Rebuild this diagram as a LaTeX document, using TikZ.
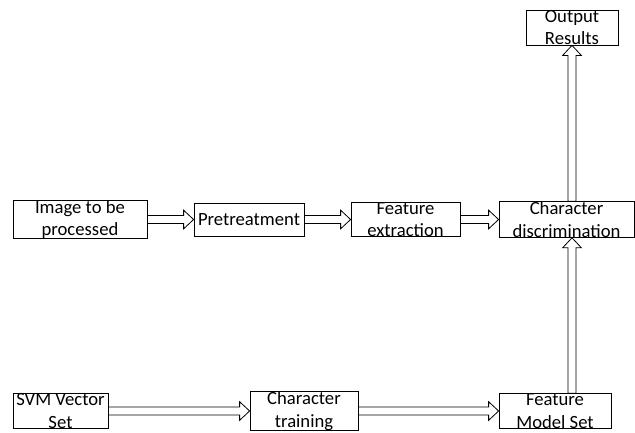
\documentclass[tikz,border=0pt]{standalone}
\usepackage{fontspec}
\setmainfont{Carlito}
\usetikzlibrary{calc}

\tikzset{
  block/.style={draw, line width=0.6pt, inner sep=0pt, align=center, font=\fontsize{14}{17}\selectfont},
  hollow/.style={draw, line width=0.6pt, line join=miter, to path={
    let \p1=(\tikztostart), \p2=(\tikztotarget), \p3=($(\p2)!7.5pt!(\p1)$) in
    ($(\p1)!3pt!90:(\p2)$) -- ($(\p3)!3pt!90:(\p2)$) -- ($(\p3)!7pt!90:(\p2)$) -- (\p2)
    -- ($(\p3)!7pt!-90:(\p2)$) -- ($(\p3)!3pt!-90:(\p2)$) -- ($(\p1)!3pt!-90:(\p2)$) -- cycle}}
}

\begin{document}
\begin{tikzpicture}[x=0.75pt, y=-0.75pt]
    \useasboundingbox (0,0) rectangle (635,432);

    % top row
    \node[block, minimum width=100.5pt, minimum height=24.75pt] (img) at (80,219.5) {Image to be\\processed};
    \node[block, minimum width=82.5pt, minimum height=24.75pt] (pre) at (249,219.5) {Pretreatment};
    \node[block, minimum width=81.75pt, minimum height=24.75pt] (fex) at (405.5,219.5) {Feature\\extraction};
    \node[block, minimum width=101.25pt, minimum height=24.75pt] (cdis) at (566.5,219.5) {Character\\discrimination};
    \node[block, minimum width=69pt, minimum height=26.25pt] (out) at (572,27.5) {Output\\Results};

    % bottom row
    \node[block, minimum width=71.25pt, minimum height=25.5pt] (svm) at (60.5,411) {SVM Vector\\Set};
    \node[block, minimum width=81pt, minimum height=25.5pt] (ctr) at (304,411) {Character\\training};
    \node[block, minimum width=84pt, minimum height=25.5pt] (fms) at (555,411) {Feature\\Model Set};

    % arrows
    \draw[hollow] (img.east) to (pre.west);
    \draw[hollow] (pre.east) to (fex.west);
    \draw[hollow] (fex.east) to (cdis.west);
    \draw[hollow] (cdis.north -| out.south) to (out.south);
    \draw[hollow] (svm.east) to (ctr.west);
    \draw[hollow] (ctr.east) to (fms.west);
    \draw[hollow] (fms.north -| out.south) to (cdis.south -| out.south);
\end{tikzpicture}
\end{document}
